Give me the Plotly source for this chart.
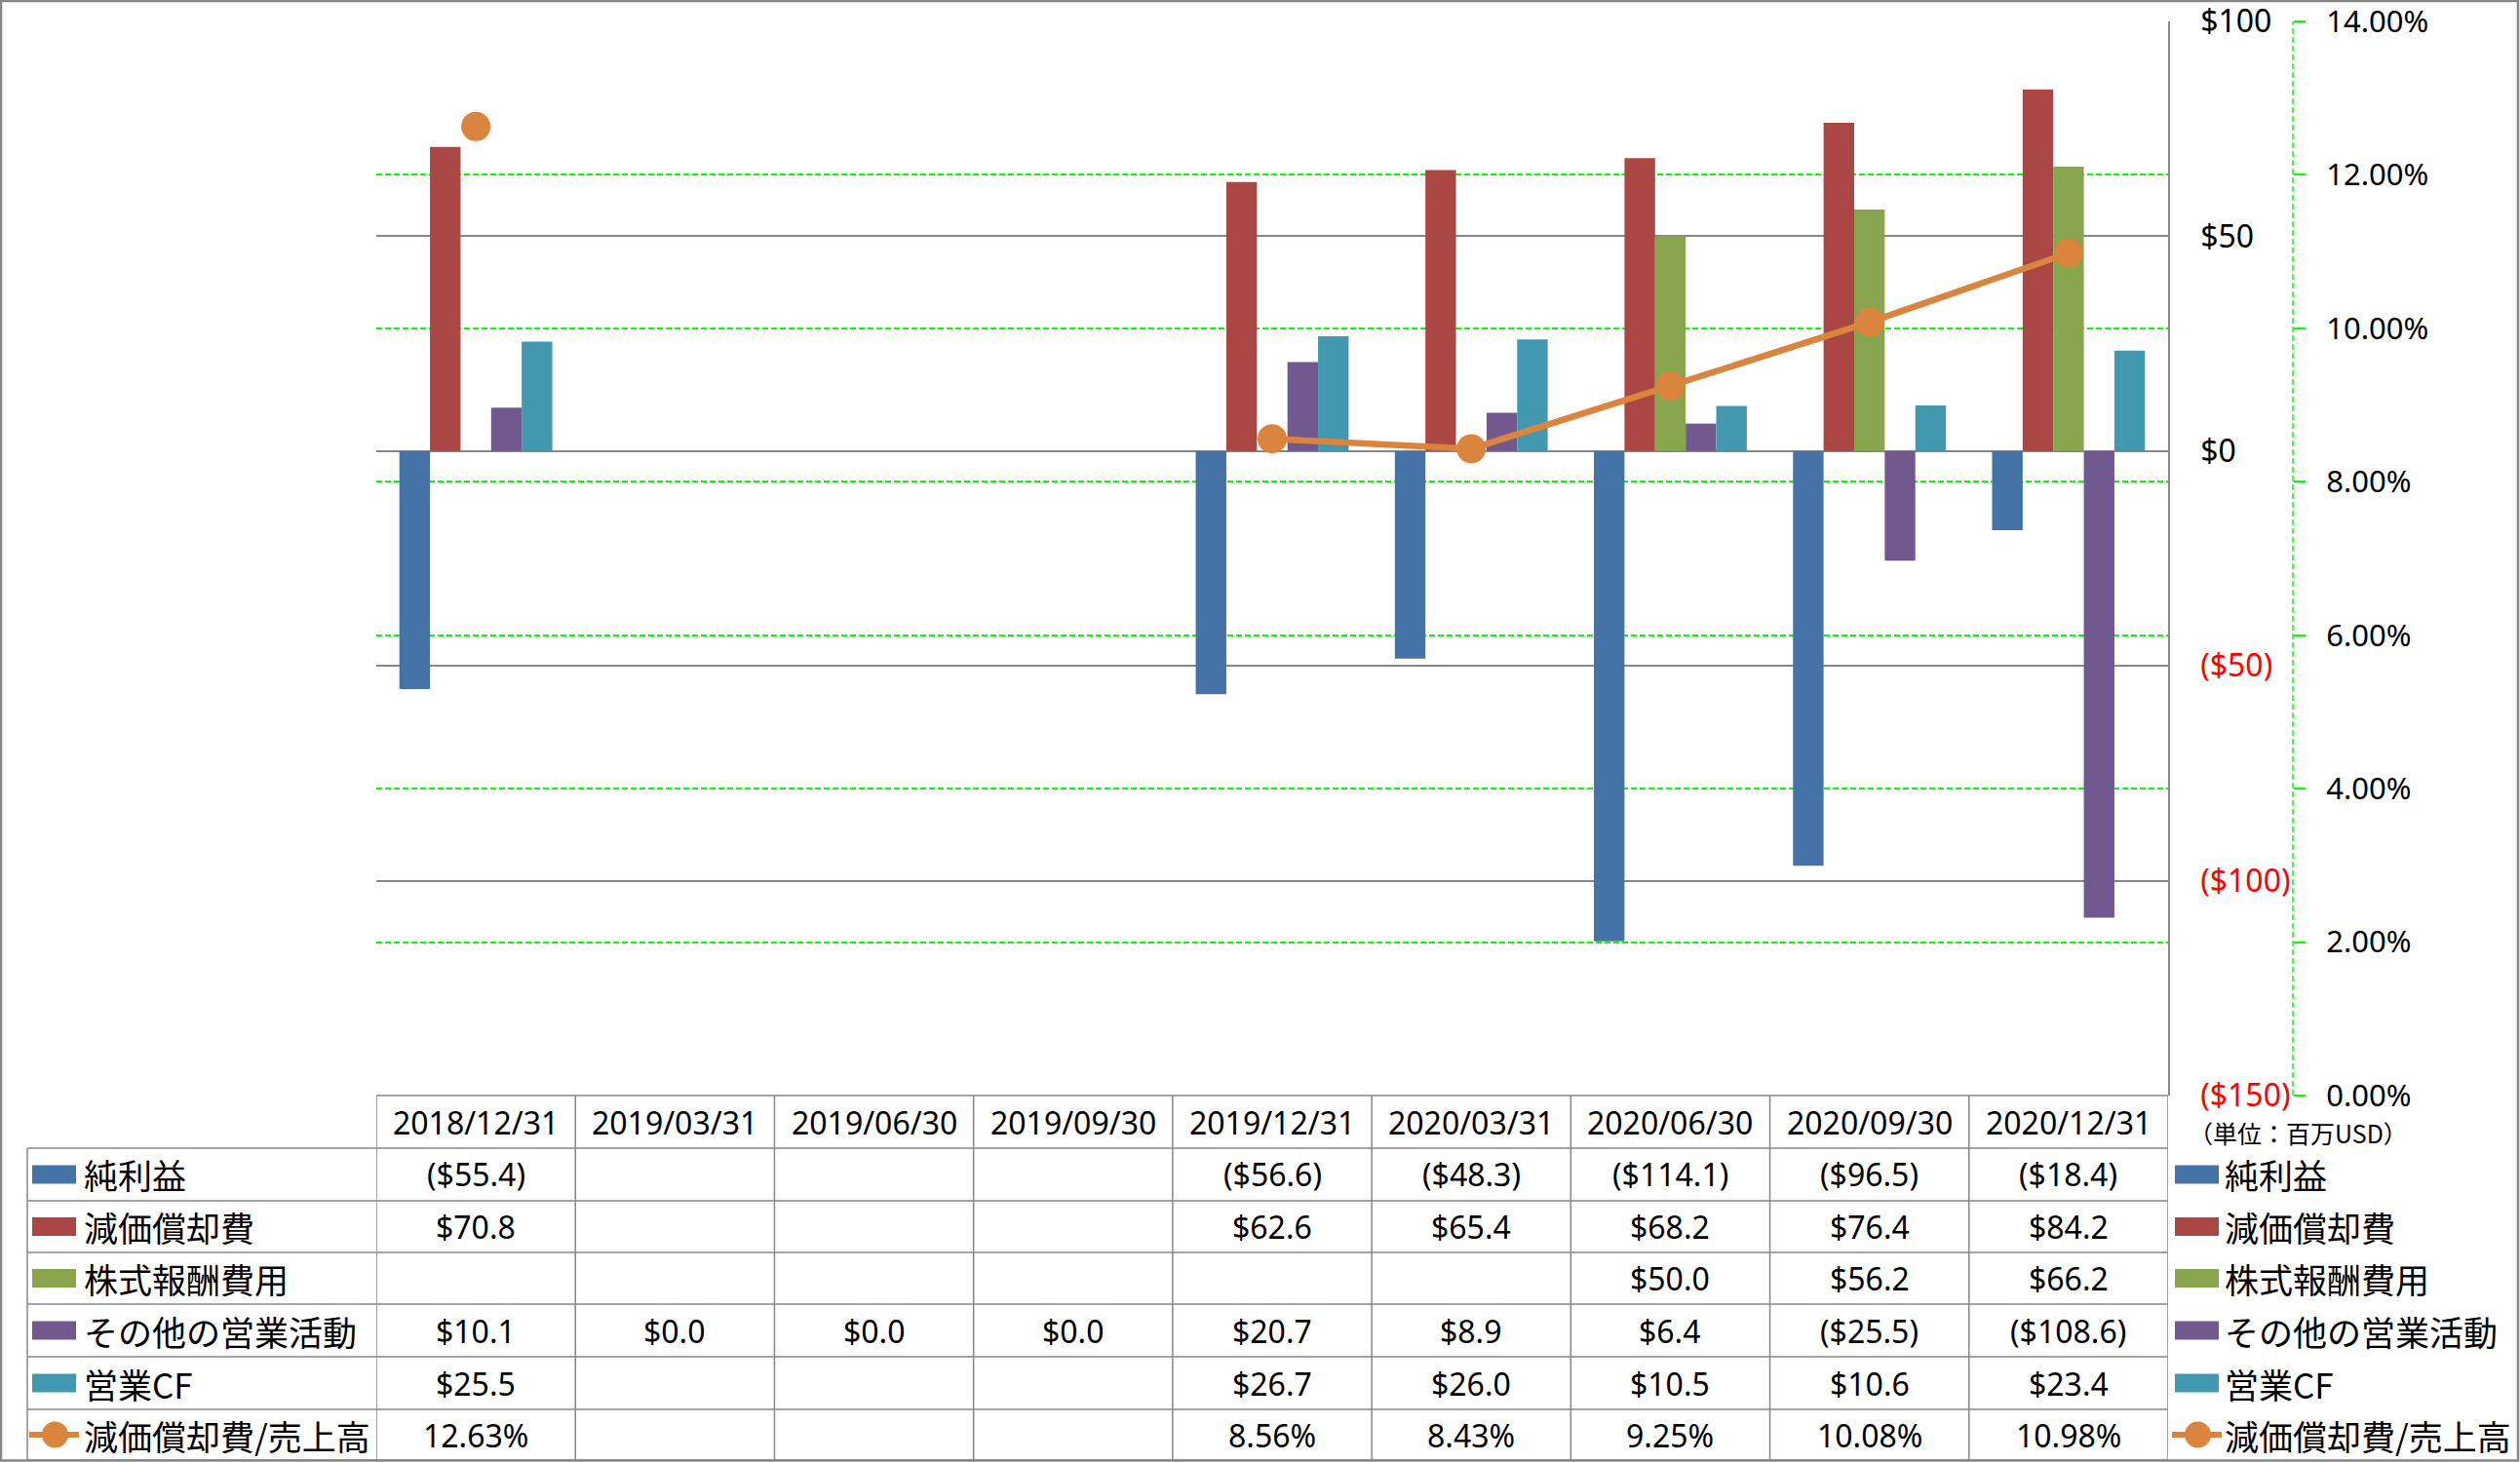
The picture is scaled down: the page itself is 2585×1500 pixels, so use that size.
import plotly.graph_objects as go

categories = ["2018/12/31", "2019/03/31", "2019/06/30", "2019/09/30", "2019/12/31",
              "2020/03/31", "2020/06/30", "2020/09/30", "2020/12/31"]
net_income = [-55.4, None, None, None, -56.6, -48.3, -114.1, -96.5, -18.4]
dep_amort = [70.8, None, None, None, 62.6, 65.4, 68.2, 76.4, 84.2]
stock_comp = [None, None, None, None, None, None, 50.0, 56.2, 66.2]
other_ops = [10.1, 0.0, 0.0, 0.0, 20.7, 8.9, 6.4, -25.5, -108.6]
op_cf = [25.5, None, None, None, 26.7, 26.0, 10.5, 10.6, 23.4]
da_ratio = [12.63, None, None, None, 8.56, 8.43, 9.25, 10.08, 10.98]

series_names = ["純利益", "減価償却費", "株式報酬費用", "その他の営業活動", "営業CF", "減価償却費/売上高"]
bar_series = [net_income, dep_amort, stock_comp, other_ops, op_cf]
colors = ["#4572A7", "#AA4643", "#89A54E", "#71588F", "#4198AF", "#DB843D"]
y_ticks = [-150, -100, -50, 0, 50, 100]
unit_label = "（単位：百万USD）"

W, H = 2585, 1500
PL, PR, PT, PB = 386, 2352, 22, 1124
PLOT_R = 2224
GRID = "#878787"
GREEN = "#00FF00"
DASH = "6px,3px"
FONT = "Noto Sans, Noto Sans CJK JP"
JFONT = "Noto Sans CJK JP"


def px(x):
    return (x - PL) / (PR - PL)


def py(y):
    return (PB - y) / (PB - PT)


def money(v):
    if v is None:
        return ""
    if v < 0:
        return "(${:.1f})".format(abs(v))
    return "${:.1f}".format(v)


def pct(v):
    return "" if v is None else "{:.2f}%".format(v)


def tick_text(v):
    if v < 0:
        return "<span style='color:#FF0000'>(${})</span>".format(abs(v))
    return "${}".format(v)


fig = go.Figure()
for name, vals, col in zip(series_names[:5], bar_series, colors[:5]):
    fig.add_trace(go.Bar(x=categories, y=vals, name=name, marker_color=col,
                         marker_line_width=0))
fig.add_trace(go.Scatter(x=categories, y=da_ratio, name=series_names[5], yaxis="y2",
                         mode="lines+markers", connectgaps=False,
                         line=dict(color=colors[5], width=6.5),
                         marker=dict(size=30, color=colors[5])))

shapes = []
annotations = []

# secondary axis dashed line
shapes.append(dict(type="line", xref="paper", yref="paper", x0=1, x1=1, y0=0, y1=1,
                   line=dict(color=GREEN, width=1.5, dash=DASH)))

# table grid
row_edges = [1124, 1178, 1232, 1285, 1338, 1392, 1446, 1498]
for c in range(len(categories) + 1):
    shapes.append(dict(type="line", xref="x", yref="paper", x0=c - 0.5, x1=c - 0.5,
                       y0=py(row_edges[-1]), y1=py(row_edges[0]),
                       line=dict(color=GRID, width=1.5)))
shapes.append(dict(type="line", xref="paper", yref="paper", x0=px(PL), x1=px(PLOT_R),
                   y0=py(row_edges[0]), y1=py(row_edges[0]), line=dict(color=GRID, width=1.5)))
for e in row_edges[1:]:
    shapes.append(dict(type="line", xref="paper", yref="paper", x0=px(28), x1=px(PLOT_R),
                       y0=py(e), y1=py(e), line=dict(color=GRID, width=1.5)))
shapes.append(dict(type="line", xref="paper", yref="paper", x0=px(28), x1=px(28),
                   y0=py(row_edges[1]), y1=py(row_edges[-1]), line=dict(color=GRID, width=1.5)))
# outer border
shapes.append(dict(type="rect", xref="paper", yref="paper", x0=px(1), x1=px(W - 2),
                   y0=py(H - 1.5), y1=py(1), line=dict(color=GRID, width=2.5)))

# header
for cat in categories:
    annotations.append(dict(x=cat, xref="x", y=py((row_edges[0] + row_edges[1]) / 2), yref="paper",
                            xanchor="center", yanchor="middle",
                            text=cat, showarrow=False, font=dict(size=32, color="black", family=FONT)))

row_texts = [[money(v) for v in s] for s in bar_series] + [[pct(v) for v in da_ratio]]
for r, texts in enumerate(row_texts):
    yc = (row_edges[r + 1] + row_edges[r + 2]) / 2
    for cat, t in zip(categories, texts):
        if t:
            annotations.append(dict(x=cat, xref="x", y=py(yc), yref="paper", text=t,
                                    xanchor="center", yanchor="middle",
                                    showarrow=False, font=dict(size=32, color="black", family=FONT)))
    # legend keys (left in table, right outside)
    for sx0, tx in ((33, 84), (2231, 2280)):
        if r < 5:
            shapes.append(dict(type="rect", xref="paper", yref="paper", x0=px(sx0), x1=px(sx0 + 45),
                               y0=py(yc + 9.5), y1=py(yc - 9.5), fillcolor=colors[r], line=dict(width=0)))
        else:
            shapes.append(dict(type="line", xref="paper", yref="paper", x0=px(sx0 - 3), x1=px(sx0 + 48),
                               y0=py(yc), y1=py(yc), line=dict(color=colors[5], width=6)))
            shapes.append(dict(type="circle", xref="paper", yref="paper", x0=px(sx0 + 10), x1=px(sx0 + 37),
                               y0=py(yc + 13.5), y1=py(yc - 13.5), fillcolor=colors[5], line=dict(width=0)))
        annotations.append(dict(x=px(tx), xref="paper", y=py(yc), yref="paper",
                                xanchor="left", yanchor="middle",
                                text=series_names[r], showarrow=False,
                                font=dict(size=35, color="black", family=JFONT)))

annotations.append(dict(x=px(2243), xref="paper", y=py(1162), yref="paper",
                        xanchor="left", yanchor="middle",
                        text=unit_label, showarrow=False,
                        font=dict(size=25, color="black", family=JFONT)))

fig.update_layout(
    width=W, height=H, autosize=False,
    margin=dict(l=PL, r=W - PR, t=PT, b=H - PB, autoexpand=False),
    paper_bgcolor="white", plot_bgcolor="white",
    barmode="group", bargap=0.232, bargroupgap=0,
    showlegend=False,
    font=dict(family=FONT, size=32, color="black"),
    xaxis=dict(domain=[0, px(PLOT_R)], range=[-0.5, len(categories) - 0.5], automargin=False,
               showticklabels=False, showgrid=False, zeroline=False, showline=False, ticks=""),
    yaxis=dict(range=[-150, 100], side="right", tickvals=y_ticks, automargin=False,
               ticktext=[tick_text(v) for v in y_ticks],
               showgrid=True, gridcolor=GRID, gridwidth=1.5, zeroline=False,
               showline=True, linecolor=GRID, linewidth=1.5, ticks="",
               ticklabelstandoff=25, ticklabeloverflow="allow",
               tickfont=dict(size=32, color="black", family=FONT)),
    yaxis2=dict(range=[0, 14], overlaying="y", side="right", anchor="free", position=1.0,
                dtick=2, tickformat=".2f", ticksuffix="%", automargin=False,
                showgrid=True, gridcolor=GREEN, griddash=DASH, gridwidth=1.5,
                zeroline=False, showline=False, ticks="outside", ticklen=12,
                tickcolor=GREEN, tickwidth=1.5, ticklabelstandoff=15,
                ticklabeloverflow="allow",
                tickfont=dict(size=31, color="black", family=FONT)),
    shapes=shapes, annotations=annotations,
)

fig.write_html("out.html", config={"displayModeBar": False},
               post_script="document.body.style.margin='0';")
